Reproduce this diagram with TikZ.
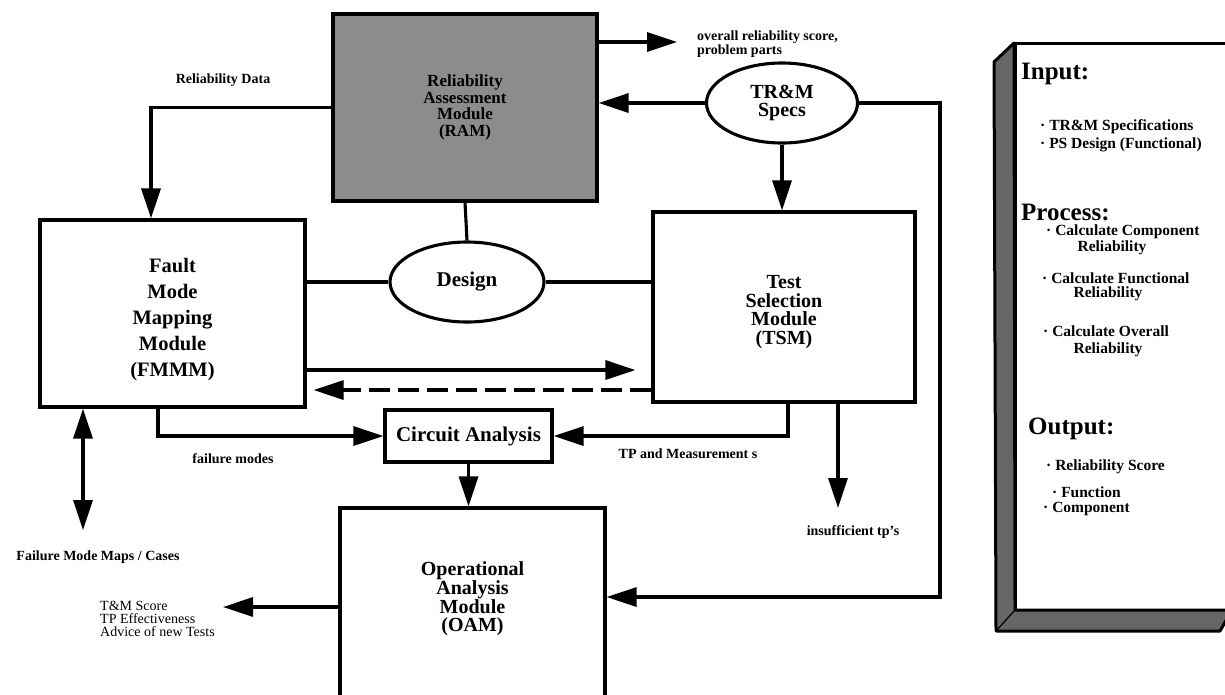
\documentclass[tikz,border=0pt]{standalone}
\usepackage{fontspec}
\setmainfont{Liberation Serif}
\usetikzlibrary{arrows.meta,shapes.geometric}
\tikzset{
  box/.style={draw, line width=3.1pt, fill=white, inner sep=0pt, align=center},
  oval/.style={ellipse, draw, line width=3.1pt, fill=white, inner sep=0pt, align=center},
  wire/.style={line width=3.1pt},
  arr/.style={wire, -{Triangle[length=30pt,width=19pt]}},
  darr/.style={wire, {Triangle[length=30pt,width=19pt]}-{Triangle[length=30pt,width=19pt]}},
  big/.style={font=\fontsize{20}{18.6}\selectfont\bfseries, align=center},
  lbl/.style={font=\fontsize{14}{12}\selectfont\bfseries, inner sep=0pt},
  head/.style={font=\fontsize{25}{25}\selectfont\bfseries, inner sep=0pt, anchor=west},
  item/.style={font=\fontsize{15.5}{16}\selectfont\bfseries, inner sep=0pt},
}
\begin{document}
\begin{tikzpicture}[x=1pt,y=-1pt]
\clip (0,0) rectangle (1225,694);
\fill[white] (0,0) rectangle (1225,694);

% nodes
\node[box, fill=black!45, minimum width=264pt, minimum height=187pt,
      font=\fontsize{17}{16.8}\selectfont\bfseries] (RAM) at (465,107.5)
      {Reliability\\Assessment\\Module\\(RAM)};
\node[oval, minimum width=151pt, minimum height=80pt,
      font=\fontsize{20}{18}\selectfont\bfseries] (TRM) at (782,103) {TR\&M\\Specs};
\node[box, minimum width=262pt, minimum height=190pt,
      label={[big, yshift=-5pt]center:{Test\\Selection\\Module\\(TSM)}}] (TSM) at (784,307) {};
\node[box, minimum width=265pt, minimum height=187pt,
      label={[font=\fontsize{20.5}{26.2}\selectfont\bfseries, align=center, yshift=-6pt]center:{Fault\\Mode\\Mapping\\Module\\(FMMM)}}]
      (FMMM) at (172.5,313.5) {};
\node[oval, minimum width=154pt, minimum height=80pt,
      font=\fontsize{21}{21}\selectfont\bfseries] (Design) at (467,282) {Design};
\node[box, minimum width=167pt, minimum height=52pt,
      font=\fontsize{21}{21}\selectfont\bfseries] (CA) at (468.5,436) {Circuit Analysis};
\node[box, minimum width=265pt, minimum height=192pt,
      label={[big, yshift=5pt]center:{Operational\\Analysis\\Module\\(OAM)}}] (OAM) at (472.5,604) {};

% helper coordinates
\coordinate (o1) at (677,42);
\coordinate (rd) at (151,0);
\coordinate (r1) at (940,597);
\coordinate (a1) at (0,370);
\coordinate (a2) at (0,390);
\coordinate (fm) at (158,0);
\coordinate (tp) at (788,0);
\coordinate (ins) at (838,508);
\coordinate (ol) at (223,607);
\coordinate (fmm) at (83,530);

% connectors
\draw[arr] (RAM.east |- o1) -- (o1);
\draw[arr] (TRM.west) -- (RAM.east |- TRM.west);
\draw[arr] (TRM.south) -- (TRM.south |- TSM.north);
\draw[arr] (TRM.east) -| (r1) -- (OAM.east |- r1);
\draw[arr] (RAM.west) -| (rd |- FMMM.north);
\draw[wire] (RAM.south) -- (Design.north);
\draw[wire] (Design.west) -- (FMMM.east |- Design.west);
\draw[wire] (Design.east) -- (TSM.west |- Design.east);
\draw[arr, shorten >=16pt] (FMMM.east |- a1) -- (TSM.west |- a1);
\draw[arr, dash pattern=on 21pt off 8pt, shorten >=7pt] (TSM.west |- a2) -- (FMMM.east |- a2);
\draw[arr] (fm |- FMMM.south) |- (CA.west);
\draw[arr] (tp |- TSM.south) |- (CA.east);
\draw[arr] (ins |- TSM.south) -- (ins);
\draw[arr] (CA.south) -- (CA.south |- OAM.north);
\draw[arr] (OAM.west |- ol) -- (ol);
\draw[darr] (fmm |- FMMM.south) -- (fmm);

% labels
\node[lbl] (lRD) at (223,80) {Reliability Data};
\node[lbl, anchor=west, align=left] (lOut) at (697,44) {overall reliability score,\\problem parts};
\node[lbl] (lFM) at (233,459) {failure modes};
\node[lbl] (lTP) at (688,454) {TP and Measurement s};
\node[lbl] (lIns) at (853,532) {insufficient tp's};
\node[lbl] (lMaps) at (98,557) {Failure Mode Maps / Cases};
\node[lbl, font=\fontsize{14}{13.2}\selectfont, anchor=west, align=left] (lOAM) at (100,619)
      {T\&M Score\\TP Effectiveness\\Advice of new Tests};

% right panel
\draw[line width=3pt, fill=white] (1015,43) rectangle (1240,610);
\fill[black!60] (994,62) -- (1014,43) -- (1015,610) -- (1232,610) -- (1220,631) -- (996,631) -- cycle;
\draw[line width=3pt, line join=round] (994,62) -- (1014,43) -- (1015,610) -- (1232,610) -- (1220,631) -- (996,631) -- cycle;
\draw[line width=1.2pt] (1015,610) -- (996,631);

\node[head] (pIn) at (1021,74) {Input:};
\node[item, anchor=west] (p1) at (1040,127) {· TR\&M Specifications};
\node[item, anchor=west] (p2) at (1040,145) {· PS Design (Functional)};
\node[head] (pPr) at (1021,212) {Process:};
\node[item, anchor=west] (p3) at (1046,232) {· Calculate Component};
\node[item] (p3b) at (1112,248) {Reliability};
\node[item, anchor=west] (p4) at (1042,278) {· Calculate Functional};
\node[item] (p4b) at (1108,294) {Reliability};
\node[item, anchor=west] (p5) at (1043,331) {· Calculate Overall};
\node[item] (p5b) at (1108,350) {Reliability};
\node[head] (pOut) at (1028,429) {Output:};
\node[item, anchor=west] (p6) at (1046,467) {· Reliability Score};
\node[item, anchor=west] (p7) at (1052,492) {· Function};
\node[item, anchor=west] (p8) at (1043,509) {· Component};
\end{tikzpicture}
\end{document}
